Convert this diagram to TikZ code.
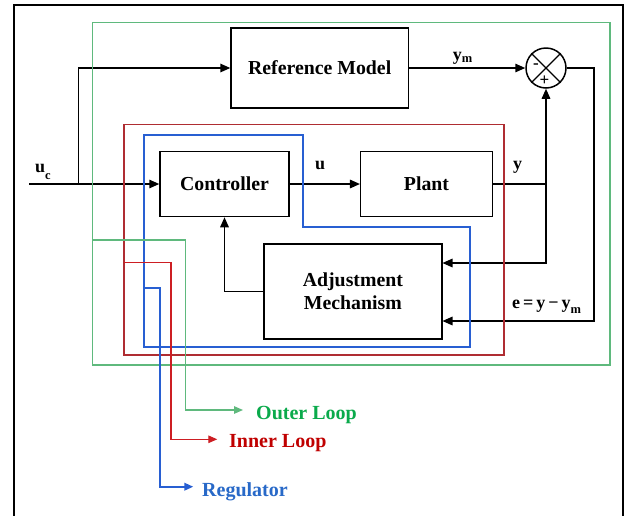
\documentclass[tikz,border=0pt]{standalone}
\usepackage{fontspec}
\setmainfont{Liberation Serif}
\usetikzlibrary{arrows.meta}
\definecolor{gbox}{RGB}{95,185,125}
\definecolor{gtxt}{RGB}{10,170,75}
\definecolor{rbox}{RGB}{175,45,50}
\definecolor{rstub}{RGB}{205,30,35}
\definecolor{rtxt}{RGB}{192,0,0}
\definecolor{bbox}{RGB}{40,95,210}
\definecolor{btxt}{RGB}{40,105,200}
\newcommand{\lowsub}[2]{{#1}\raisebox{-#2}{\fontsize{12.5}{12.5}\selectfont\bfseries m}}
\begin{document}
\begin{tikzpicture}[x=1pt,y=-1pt,
  blk/.style={draw, line width=1.5pt, rectangle, inner sep=0pt, align=center,
    font=\fontsize{19.8}{23}\selectfont\bfseries},
  lbl/.style={inner sep=0pt, anchor=base west, font=\fontsize{18}{18}\selectfont\bfseries},
  looplbl/.style={inner sep=0pt, anchor=base west, font=\fontsize{20}{20}\selectfont\bfseries},
  conn/.style={line width=1.5pt, -{Triangle[length=10pt,width=8.5pt]}},
  wire/.style={line width=1.5pt},
  stubarrow/.style={-{Triangle[length=9pt,width=7.5pt]}}
]
\useasboundingbox (0,0) rectangle (627,515);
\fill[white] (0,0) rectangle (627,515);
% outer frame
\draw[line width=2.8pt] (14,520) -- (14,5) -- (623,5) -- (623,520);

% blocks
\node[blk, minimum width=177.3pt, minimum height=80pt] (ref) at (319.7,68) {Reference Model};
\node[blk, minimum width=129pt, minimum height=65pt] (ctrl) at (224.5,184) {Controller};
\node[blk, minimum width=131.6pt, minimum height=65pt] (plant) at (426.5,184) {Plant};
\node[blk, minimum width=177.7pt, minimum height=95pt] (adj) at (352.9,291.5) {Adjustment\\Mechanism};
\node[draw, circle, line width=1.5pt, minimum size=40pt, inner sep=0pt] (sum) at (546,68) {};
\draw[line width=1.2pt] (sum.north west) -- (sum.south east);
\draw[line width=1.2pt] (sum.north east) -- (sum.south west);
\node[inner sep=0pt, font=\fontsize{17}{17}\selectfont\bfseries] (minus) at (536,66.5) {-};
\node[inner sep=0pt, font=\fontsize{17}{17}\selectfont\bfseries] (plus) at (544.5,80.5) {+};

% coordinates
\coordinate (in) at (29,184);
\coordinate (br) at (78.3,184);
\coordinate (yj) at (546,184);
\coordinate (yb) at (546,263);
\coordinate (er) at (594,68);
\coordinate (eb) at (594,321);

% connectors
\draw[conn] (in) -- (ctrl.west);
\draw[conn] (br) |- (ref.west);
\draw[conn] (ref.east) -- (sum.west);
\draw[conn] (ctrl.east) -- (plant.west);
\draw[wire] (plant.east) -- (yj);
\draw[conn] (yj) -- (sum.south);
\draw[conn] (yj) -- (yb) -- (yb -| adj.east);
\draw[conn] (sum.east) -- (er) -- (eb) -- (eb -| adj.east);
\draw[conn] (adj.west) -| (ctrl.south);

% signal labels
\node[lbl] (uc) at (35,172.7) {u\raisebox{-7pt}{\fontsize{12.5}{12.5}\selectfont\bfseries c}};
\node[lbl] (ulab) at (315,169.3) {u};
\node[lbl] (ylab) at (513,169) {y};
\node[lbl] (ymlab) at (452.7,60) {\lowsub{y}{2pt}};
\node[lbl] (elab) at (512,308) {e\hspace{3pt}=\hspace{3pt}y\hspace{3pt}\textminus\hspace{3pt}\lowsub{y}{5pt}};

% loop boxes
\draw[gbox, line width=1.2pt] (92.7,22.5) rectangle (610,365);
\draw[rbox, line width=1.2pt] (124,124.5) rectangle (504,355);
\draw[bbox, line width=2pt] (144,135.3) -- (302.7,135.3) -- (302.7,227.3) -- (470,227.3) -- (470,346.5) -- (144,346.5) -- cycle;

% loop labels and stubs
\node[looplbl, text=gtxt] (outer) at (256,419) {Outer Loop};
\node[looplbl, text=rtxt] (inner) at (229,447) {Inner Loop};
\node[looplbl, text=btxt] (reg) at (202,496.5) {Regulator};
\coordinate (gs) at (92.7,240);
\coordinate (gc) at (185.3,240);
\coordinate (gt) at (243,410);
\coordinate (rs) at (124,262.3);
\coordinate (rc) at (171,262.3);
\coordinate (rt) at (217.3,439.3);
\coordinate (bs) at (144,287.7);
\coordinate (bc) at (160,287.7);
\coordinate (bt) at (193.3,486.7);
\draw[gbox, line width=1.2pt, stubarrow] (gs) -- (gc) |- (gt);
\draw[rstub, line width=1.2pt, stubarrow] (rs) -- (rc) |- (rt);
\draw[bbox, line width=2pt, stubarrow] (bs) -- (bc) |- (bt);
\end{tikzpicture}
\end{document}
